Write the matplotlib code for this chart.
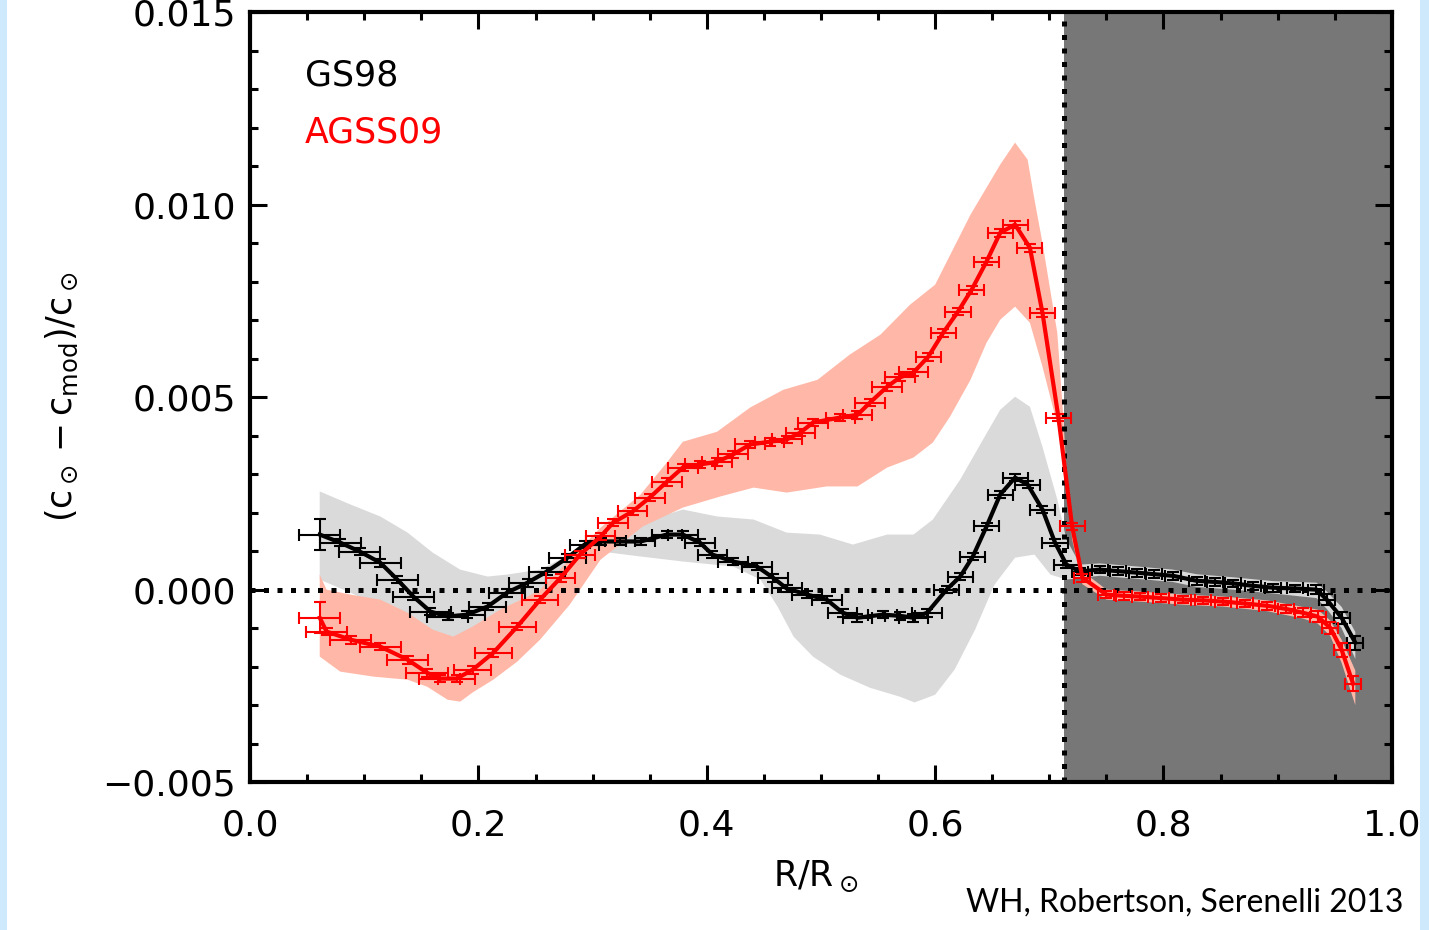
import matplotlib
matplotlib.use("Agg")
import matplotlib.pyplot as plt
from matplotlib.patches import Rectangle
from matplotlib.ticker import MultipleLocator

# GS98 model: points with error bars
gs98_r = [0.061, 0.079, 0.096, 0.114, 0.129, 0.143, 0.158, 0.173, 0.190, 0.208,
          0.225, 0.243, 0.260, 0.278, 0.293, 0.307, 0.324, 0.342, 0.365, 0.379,
          0.394, 0.405, 0.423, 0.444, 0.458, 0.470, 0.488, 0.505, 0.519, 0.532,
          0.554, 0.569, 0.581, 0.593, 0.610, 0.622, 0.633, 0.645, 0.657, 0.670,
          0.681, 0.694, 0.705, 0.715, 0.727, 0.744, 0.760, 0.777, 0.792, 0.808,
          0.829, 0.845, 0.861, 0.878, 0.896, 0.915, 0.934, 0.943, 0.956, 0.968]
gs98_dc = [0.00143, 0.00122, 0.00099, 0.00070, 0.00026, -0.00018, -0.00057, -0.00070, -0.00065, -0.00044,
           -0.00008, 0.00018, 0.00047, 0.00083, 0.00117, 0.00125, 0.00125, 0.00125, 0.00143, 0.00143,
           0.00122, 0.00091, 0.00073, 0.00060, 0.00031, 0.00003, -0.00013, -0.00026, -0.00060, -0.00073,
           -0.00065, -0.00068, -0.00073, -0.00060, 0.00000, 0.00034, 0.00086, 0.00164, 0.00247, 0.00291,
           0.00273, 0.00208, 0.00122, 0.00065, 0.00047, 0.00052, 0.00048, 0.00044, 0.00040, 0.00036,
           0.00023, 0.00020, 0.00016, 0.00010, 0.00005, 0.00003, 0.00000, -0.00026, -0.00073, -0.00138]
gs98_xerr = [0.018, 0.018, 0.018, 0.018, 0.018, 0.018, 0.018, 0.018, 0.016, 0.016,
             0.016, 0.016, 0.016, 0.016, 0.013, 0.013, 0.013, 0.013, 0.013, 0.013,
             0.013, 0.013, 0.013, 0.013, 0.013, 0.013, 0.013, 0.013, 0.013, 0.013,
             0.013, 0.013, 0.013, 0.013, 0.011, 0.011, 0.011, 0.011, 0.011, 0.011,
             0.011, 0.011, 0.011, 0.011, 0.007, 0.007, 0.007, 0.007, 0.007, 0.007,
             0.007, 0.007, 0.007, 0.007, 0.007, 0.007, 0.007, 0.007, 0.007, 0.007]
gs98_yerr = [0.0004, 0.0001, 0.0001, 0.0001, 0.0001, 0.0001, 0.0001, 0.0001, 0.0001, 0.0001,
             0.0001, 0.0001, 0.0001, 0.0001, 0.0001, 0.0001, 0.0001, 0.0001, 0.0001, 0.0001,
             0.0001, 0.0001, 0.0001, 0.0001, 0.0001, 0.0001, 0.0001, 0.0001, 0.0001, 0.0001,
             0.0001, 0.0001, 0.0001, 0.0001, 0.0001, 0.0001, 0.0001, 0.0001, 0.0001, 0.0001,
             0.0001, 0.0001, 0.0001, 0.0001, 0.0001, 0.0001, 0.0001, 0.0001, 0.0001, 0.0001,
             0.0001, 0.0001, 0.0001, 0.0001, 0.0001, 0.0001, 0.00012, 0.00014, 0.00016, 0.00018]

# AGSS09 model: points with error bars
agss_r = [0.061, 0.067, 0.088, 0.114, 0.138, 0.155, 0.166, 0.181, 0.195, 0.213,
          0.234, 0.254, 0.272, 0.289, 0.307, 0.318, 0.335, 0.350, 0.365, 0.379,
          0.394, 0.409, 0.423, 0.438, 0.455, 0.470, 0.482, 0.493, 0.517, 0.532,
          0.543, 0.558, 0.569, 0.581, 0.594, 0.607, 0.620, 0.632, 0.645, 0.657,
          0.670, 0.683, 0.694, 0.708, 0.720, 0.729, 0.750, 0.765, 0.779, 0.798,
          0.817, 0.835, 0.852, 0.871, 0.891, 0.907, 0.922, 0.935, 0.946, 0.956,
          0.966]
agss_dc = [-0.00073, -0.00109, -0.00130, -0.00148, -0.00182, -0.00216, -0.00231, -0.00231, -0.00208, -0.00164,
           -0.00096, -0.00026, 0.00031, 0.00091, 0.00138, 0.00174, 0.00203, 0.00239, 0.00280, 0.00317,
           0.00325, 0.00332, 0.00351, 0.00377, 0.00384, 0.00390, 0.00408, 0.00434, 0.00447, 0.00454,
           0.00486, 0.00527, 0.00551, 0.00564, 0.00605, 0.00667, 0.00722, 0.00779, 0.00852, 0.00927,
           0.00948, 0.00888, 0.00719, 0.00447, 0.00164, 0.00031, -0.00013, -0.00016, -0.00018, -0.00022,
           -0.00026, -0.00028, -0.00031, -0.00036, -0.00042, -0.00050, -0.00060, -0.00070, -0.00099, -0.00156,
           -0.00244]
agss_xerr = [0.018, 0.018, 0.018, 0.018, 0.018, 0.018, 0.018, 0.016, 0.016, 0.016,
             0.016, 0.016, 0.013, 0.013, 0.013, 0.013, 0.013, 0.013, 0.013, 0.013,
             0.013, 0.013, 0.013, 0.013, 0.013, 0.013, 0.013, 0.013, 0.013, 0.013,
             0.013, 0.013, 0.013, 0.013, 0.011, 0.011, 0.011, 0.011, 0.011, 0.011,
             0.011, 0.011, 0.011, 0.011, 0.011, 0.007, 0.007, 0.007, 0.007, 0.007,
             0.007, 0.007, 0.007, 0.007, 0.007, 0.007, 0.007, 0.007, 0.007, 0.007,
             0.007]
agss_yerr = [0.0004, 0.0001, 0.0001, 0.0001, 0.0001, 0.0001, 0.0001, 0.0001, 0.0001, 0.0001,
             0.0001, 0.0001, 0.0001, 0.0001, 0.0001, 0.0001, 0.0001, 0.0001, 0.0001, 0.0001,
             0.0001, 0.0001, 0.0001, 0.0001, 0.0001, 0.0001, 0.0001, 0.0001, 0.0001, 0.0001,
             0.0001, 0.0001, 0.0001, 0.0001, 0.0001, 0.0001, 0.0001, 0.0001, 0.0001, 0.0001,
             0.0001, 0.0001, 0.0001, 0.0001, 0.0001, 0.0001, 0.0001, 0.0001, 0.0001, 0.0001,
             0.0001, 0.0001, 0.0001, 0.0001, 0.0001, 0.0001, 0.00012, 0.00014, 0.00016, 0.00018,
             0.0002]

# uncertainty bands (upper / lower edges)
gs98_up_r = [0.061, 0.088, 0.114, 0.138, 0.160, 0.184, 0.208, 0.225, 0.254, 0.280,
             0.307, 0.342, 0.379, 0.409, 0.441, 0.470, 0.499, 0.528, 0.558, 0.581,
             0.598, 0.622, 0.642, 0.657, 0.670, 0.683, 0.694, 0.707, 0.715, 0.727,
             0.744, 0.777, 0.808, 0.829, 0.861, 0.896, 0.934, 0.943, 0.956, 0.968]
gs98_up = [0.00255, 0.00221, 0.00190, 0.00148, 0.00096, 0.00052, 0.00034, 0.00039, 0.00052, 0.00091,
           0.00135, 0.00174, 0.00208, 0.00190, 0.00182, 0.00148, 0.00143, 0.00117, 0.00143, 0.00143,
           0.00182, 0.00286, 0.00390, 0.00467, 0.00501, 0.00475, 0.00371, 0.00234, 0.00130, 0.00065,
           0.00068, 0.00060, 0.00052, 0.00040, 0.00032, 0.00022, 0.00018, -0.00005, -0.00045, -0.00110]
gs98_lo_r = [0.061, 0.088, 0.114, 0.138, 0.155, 0.173, 0.195, 0.219, 0.243, 0.263,
             0.285, 0.307, 0.342, 0.379, 0.423, 0.447, 0.462, 0.476, 0.493, 0.517,
             0.543, 0.569, 0.582, 0.600, 0.617, 0.635, 0.652, 0.670, 0.687, 0.701,
             0.715, 0.727, 0.744, 0.777, 0.808, 0.829, 0.861, 0.896, 0.934, 0.943,
             0.956, 0.968]
gs98_lo = [0.00026, -0.00008, -0.00044, -0.00086, -0.00122, -0.00130, -0.00122, -0.00078, -0.00034, 0.00000,
           0.00039, 0.00099, 0.00086, 0.00073, 0.00060, 0.00026, -0.00044, -0.00122, -0.00174, -0.00221,
           -0.00255, -0.00278, -0.00293, -0.00273, -0.00208, -0.00104, 0.00013, 0.00083, 0.00091, 0.00039,
           0.00026, 0.00030, 0.00036, 0.00028, 0.00020, 0.00007, 0.00000, -0.00010, -0.00022, -0.00050,
           -0.00100, -0.00180]

agss_up_r = [0.061, 0.067, 0.088, 0.114, 0.138, 0.160, 0.178, 0.195, 0.219, 0.243,
             0.254, 0.280, 0.307, 0.342, 0.365, 0.379, 0.409, 0.438, 0.467, 0.497,
             0.525, 0.552, 0.578, 0.600, 0.631, 0.657, 0.670, 0.681, 0.687, 0.694,
             0.707, 0.712, 0.716, 0.722, 0.729, 0.750, 0.779, 0.817, 0.852, 0.891,
             0.922, 0.935, 0.946, 0.956, 0.968]
agss_up = [0.00039, 0.00000, -0.00013, -0.00026, -0.00060, -0.00104, -0.00122, -0.00096, -0.00052, -0.00018,
           0.00000, 0.00078, 0.00161, 0.00247, 0.00330, 0.00384, 0.00410, 0.00473, 0.00519, 0.00545,
           0.00610, 0.00662, 0.00740, 0.00792, 0.00974, 0.01104, 0.01161, 0.01117, 0.01013, 0.00901,
           0.00667, 0.00460, 0.00260, 0.00117, 0.00048, 0.00000, -0.00005, -0.00013, -0.00018, -0.00028,
           -0.00045, -0.00052, -0.00080, -0.00130, -0.00210]
agss_lo_r = [0.061, 0.079, 0.108, 0.138, 0.155, 0.173, 0.184, 0.195, 0.213, 0.234,
             0.254, 0.280, 0.307, 0.344, 0.379, 0.412, 0.441, 0.470, 0.505, 0.532,
             0.558, 0.581, 0.598, 0.613, 0.631, 0.645, 0.657, 0.670, 0.683, 0.694,
             0.703, 0.709, 0.715, 0.720, 0.729, 0.750, 0.779, 0.817, 0.852, 0.891,
             0.922, 0.935, 0.946, 0.956, 0.968]
agss_lo = [-0.00174, -0.00213, -0.00226, -0.00234, -0.00252, -0.00286, -0.00291, -0.00267, -0.00234, -0.00187,
           -0.00130, -0.00039, 0.00078, 0.00164, 0.00213, 0.00242, 0.00265, 0.00252, 0.00268, 0.00268,
           0.00317, 0.00343, 0.00382, 0.00449, 0.00545, 0.00641, 0.00701, 0.00735, 0.00693, 0.00579,
           0.00475, 0.00408, 0.00286, 0.00130, 0.00014, -0.00026, -0.00031, -0.00039, -0.00044, -0.00056,
           -0.00075, -0.00088, -0.00120, -0.00190, -0.00300]

r_cz = 0.713  # base of the convective zone

plt.rcParams["mathtext.fontset"] = "dejavusans"
plt.rcParams["mathtext.default"] = "regular"

fig = plt.figure(figsize=(14.29, 9.30), dpi=100, facecolor="#cde9fb")
fig.patches.append(Rectangle((7 / 1429, 0), 1413 / 1429, 1, transform=fig.transFigure,
                             facecolor="white", edgecolor="none", zorder=-10))
ax = fig.add_axes([0.175, 0.159, 0.799, 0.828])

ax.axvspan(r_cz, 1.0, color="#777777", zorder=0, lw=0)

ax.fill(gs98_up_r + gs98_lo_r[::-1], gs98_up + gs98_lo[::-1],
        color="#dadada", lw=0, zorder=1)
ax.fill(agss_up_r + agss_lo_r[::-1], agss_up + agss_lo[::-1],
        color="#ffb8a8", lw=0, zorder=1.5)

ax.axhline(0, color="black", lw=3.6, dashes=(1, 1.7), dash_capstyle="butt", zorder=2)
ax.axvline(r_cz, color="black", lw=3.6, dashes=(1, 1.7), dash_capstyle="butt", zorder=2)

ax.errorbar(gs98_r, gs98_dc, xerr=gs98_xerr, yerr=gs98_yerr, fmt="none",
            ecolor="black", elinewidth=1.5, capsize=4.5, capthick=1.5, zorder=3)
ax.plot(gs98_r, gs98_dc, color="black", lw=3, zorder=3.5)

ax.errorbar(agss_r, agss_dc, xerr=agss_xerr, yerr=agss_yerr, fmt="none",
            ecolor="red", elinewidth=1.5, capsize=4.5, capthick=1.5, zorder=4)
ax.plot(agss_r, agss_dc, color="red", lw=3, zorder=4.5)

ax.set_xlim(0.0, 1.0)
ax.set_ylim(-0.005, 0.015)
ax.xaxis.set_major_locator(MultipleLocator(0.2))
ax.xaxis.set_minor_locator(MultipleLocator(0.05))
ax.yaxis.set_major_locator(MultipleLocator(0.005))
ax.yaxis.set_minor_locator(MultipleLocator(0.001))
ax.xaxis.set_major_formatter(lambda v, p: f"{v:.1f}")
ax.yaxis.set_major_formatter(lambda v, p: f"{v:.3f}".replace("-", "\u2212"))
ax.tick_params(which="both", direction="in", top=True, right=True, width=2.2,
               labelsize=26, zorder=6)
ax.tick_params(which="major", length=12)
ax.tick_params(which="minor", length=6)
ax.tick_params(axis="x", which="major", pad=19)
ax.tick_params(axis="y", which="major", pad=10)
for s in ax.spines.values():
    s.set_linewidth(3)
    s.set_zorder(6)

ax.text(-0.165, 0.5, r"$(c_\odot - c_{mod})/c_\odot$", transform=ax.transAxes,
        rotation=90, ha="center", va="center", fontsize=25)
ax.text(0.495, -0.1, r"$R/R_\odot$", transform=ax.transAxes,
        ha="center", va="top", fontsize=25)

ax.text(0.048, 0.918, "GS98", transform=ax.transAxes, color="black",
        fontsize=25, va="center", ha="left")
ax.text(0.048, 0.843, "AGSS09", transform=ax.transAxes, color="red",
        fontsize=25, va="center", ha="left")

fig.text(0.982, 0.029, "WH, Robertson, Serenelli 2013", ha="right", va="center",
         fontsize=23, family="Lato")

fig.savefig("out.png", dpi=100, facecolor=fig.get_facecolor())
